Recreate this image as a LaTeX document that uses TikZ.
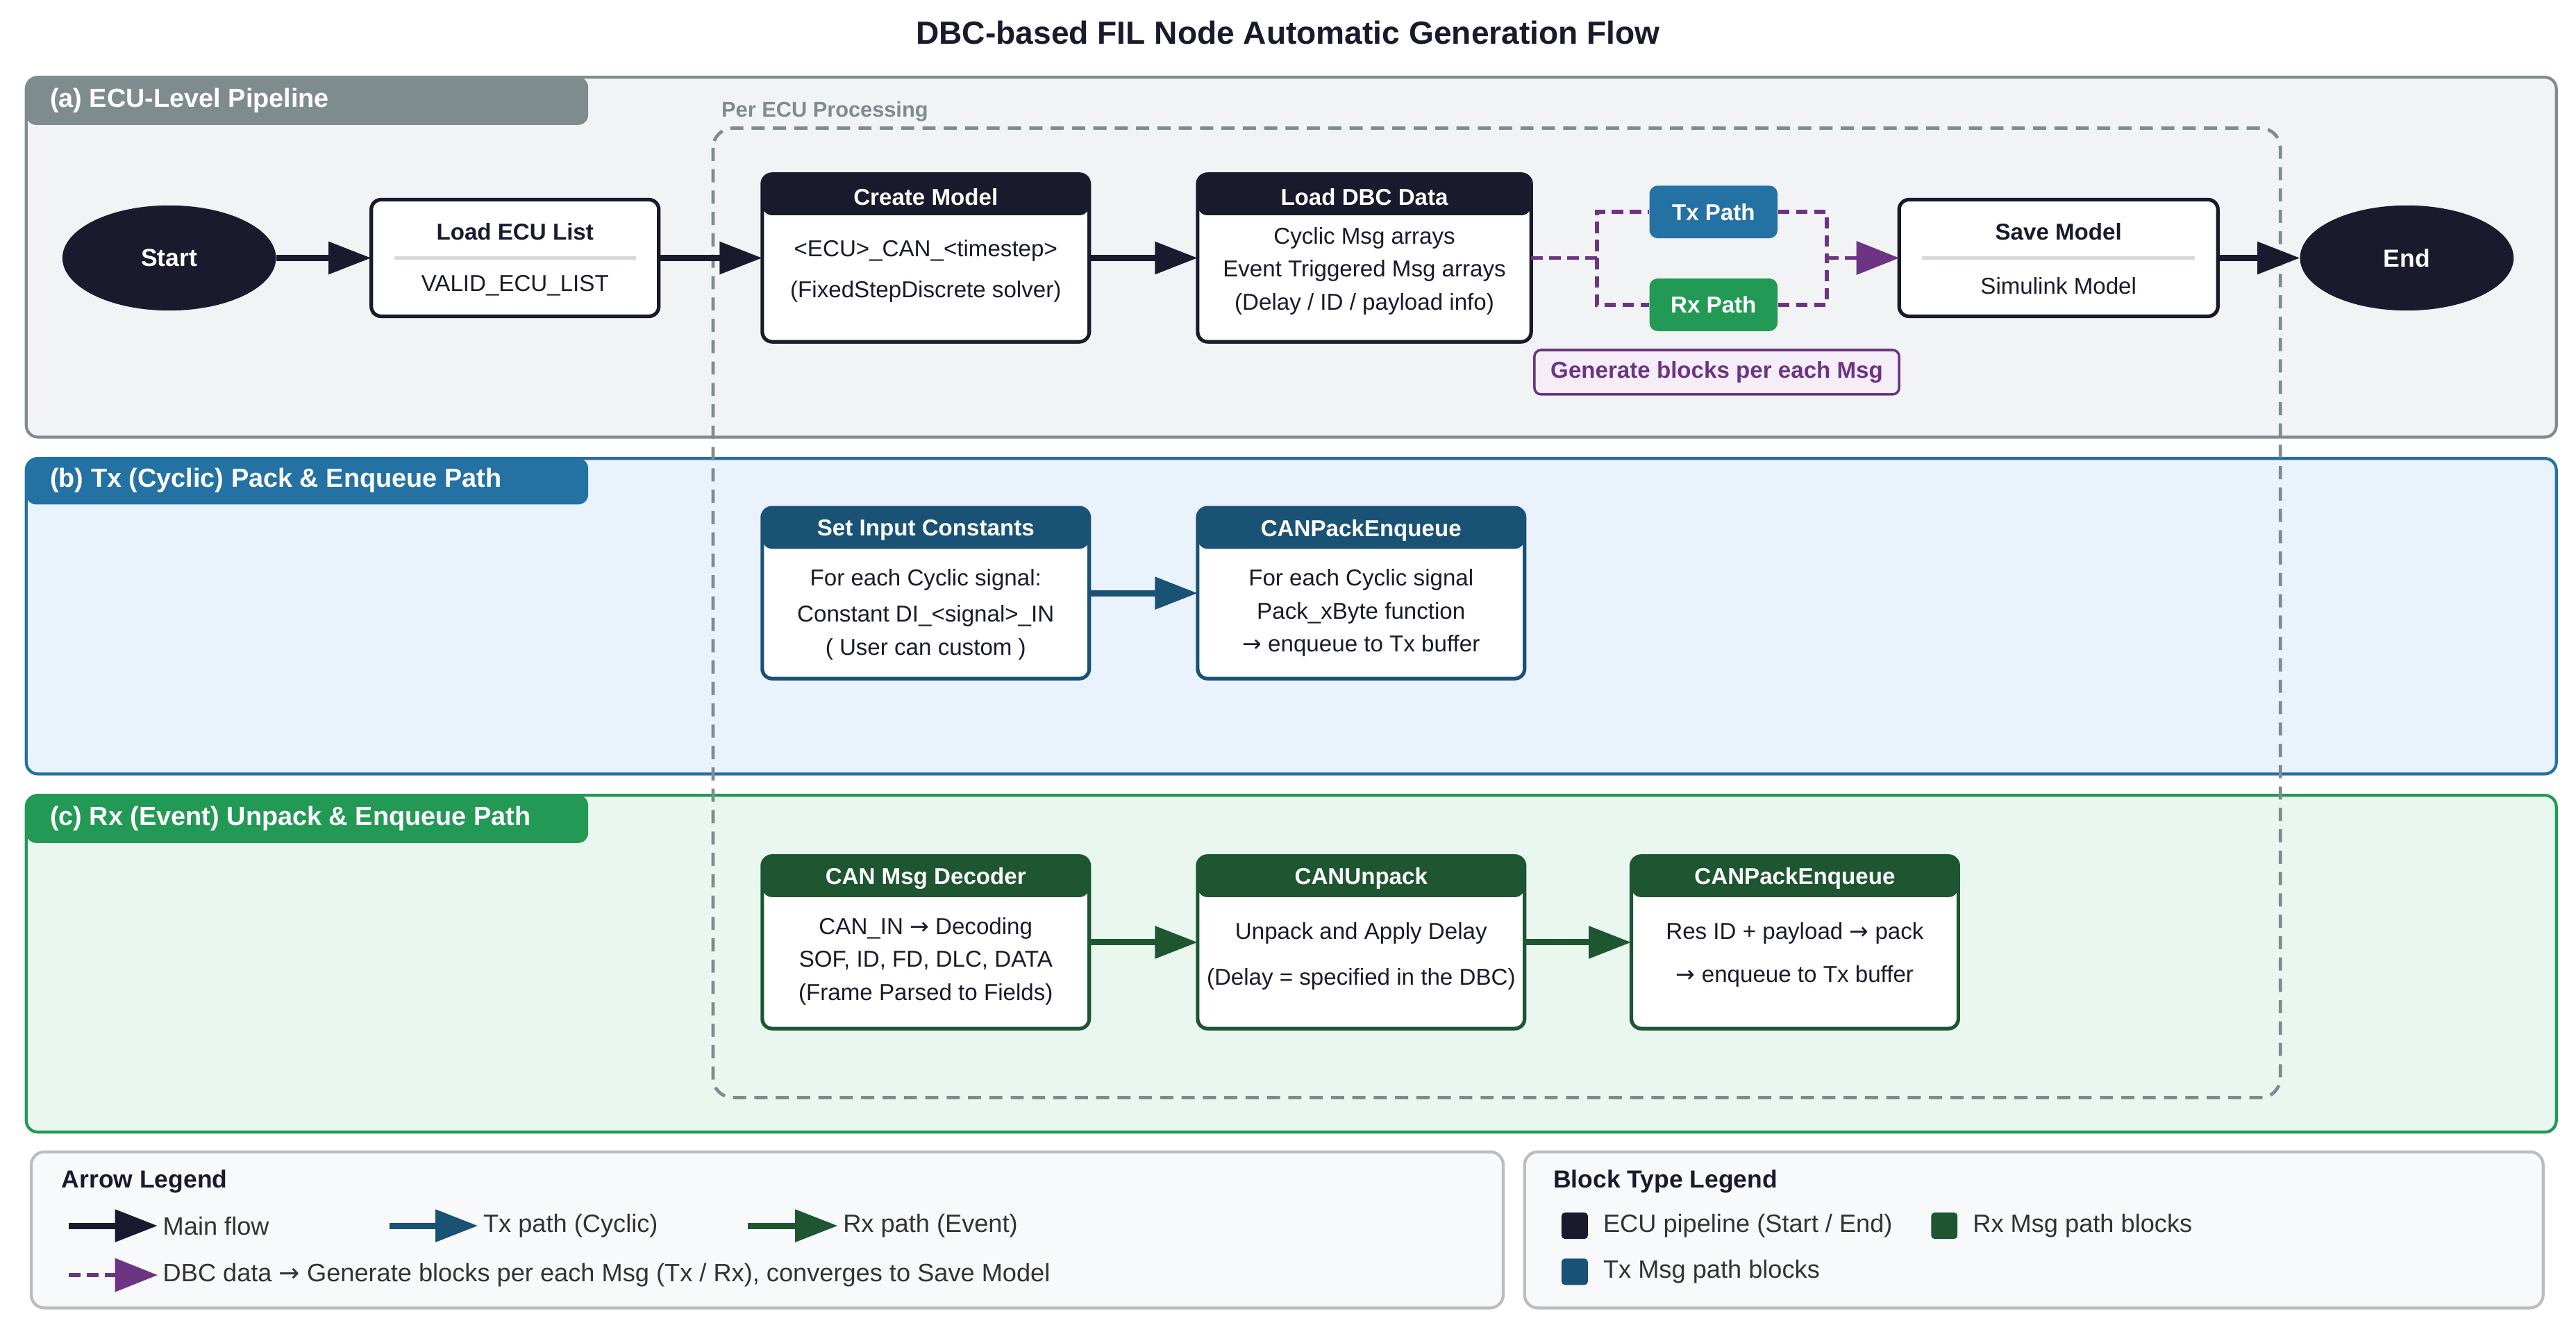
\documentclass[tikz,border=0pt]{standalone}
\usepackage{fontspec}
\setmainfont{Liberation Sans}
\newfontfamily\arrfont{DejaVu Sans}
\usepackage{tikz}
\usetikzlibrary{arrows.meta,calc,positioning,shapes.geometric}

\definecolor{navy}{HTML}{1A1A2E}
\definecolor{txdark}{HTML}{1A5276}
\definecolor{rxdark}{HTML}{1E5631}
\definecolor{txmid}{HTML}{2471A3}
\definecolor{rxmid}{HTML}{229954}
\definecolor{dbcpurple}{HTML}{6C3483}
\definecolor{slate}{HTML}{7F8C8D}
\definecolor{panelA}{HTML}{F2F3F5}
\definecolor{panelB}{HTML}{EAF2FB}
\definecolor{panelC}{HTML}{E9F7EF}
\definecolor{legfill}{HTML}{F8F9FA}
\definecolor{legline}{HTML}{BDBDBD}
\definecolor{genfill}{HTML}{F5EEF8}
\definecolor{divgray}{HTML}{D5D8DC}
\definecolor{legink}{HTML}{333333}
\newcommand{\fsz}[2]{\fontsize{#1}{#2}\selectfont}
\newcommand{\rarr}{{\arrfont →}}

\begin{document}
\begin{tikzpicture}[
    x=1pt, y=-1pt,
    font=\fsz{14}{20},
    panel/.style 2 args={fill=#1, draw=#2, line width=1.8pt, rounded corners=7pt},
    tabtext/.style={anchor=west, text=white, font=\bfseries\fsz{16}{19}},
    ecubox/.style={draw=slate, line width=2pt, dash pattern=on 8pt off 5pt, rounded corners=12pt},
    term/.style={ellipse, fill=navy, minimum width=130pt, minimum height=64pt,
                 outer sep=0pt, text=white, font=\bfseries\fsz{15}{18}},
    plainbox/.style={draw=navy, fill=white, line width=2.2pt, rounded corners=6pt,
                     outer sep=0pt, minimum width=175pt, minimum height=71pt},
    stage/.style={draw=#1, fill=white, line width=2.2pt, rounded corners=6pt,
                  outer sep=0pt, minimum width=199pt, minimum height=102pt,
                  path picture={\fill[#1] (path picture bounding box.north west)
                     rectangle ([yshift=-25pt]path picture bounding box.north east);}},
    hdr/.style={anchor=north, minimum height=27pt, inner sep=0pt, text=white,
                font=\bfseries\fsz{14}{17}},
    ttl/.style={text=navy, font=\bfseries\fsz{14}{17}},
    body/.style={align=center, text=navy, font=\fsz{14}{20}},
    divider/.style={divgray, line width=2pt},
    pathbox/.style={rounded corners=5pt, minimum width=78pt, minimum height=32pt,
                    text=white, font=\bfseries\fsz{14}{17}},
    genbox/.style={draw=dbcpurple, fill=genfill, line width=1.5pt, rounded corners=4pt,
                   minimum width=222pt, minimum height=27pt, text=dbcpurple,
                   font=\bfseries\fsz{14}{17}},
    flow/.style={draw=#1, line width=3.8pt, -{Triangle[length=26pt,width=19pt]}},
    flow/.default=navy,
    dbcline/.style={draw=dbcpurple, line width=2.5pt, dash pattern=on 7pt off 4pt},
    dbcarrow/.style={dbcline, -{Triangle[length=26pt,width=20pt]}},
    legbox/.style={fill=legfill, draw=legline, line width=1.8pt, rounded corners=8pt},
    legtitle/.style={anchor=west, text=navy, font=\bfseries\fsz{15}{18}},
    legtext/.style={anchor=west, inner sep=3pt, text=legink, font=\fsz{15.3}{18}},
    swatch/.style={rounded corners=2pt, minimum size=16pt, inner sep=0pt}
]
\useasboundingbox (0,0) rectangle (1568,806);

\node[font=\bfseries\fsz{19.5}{23}, text=navy] (title) at (784,20)
    {DBC-based FIL Node Automatic Generation Flow};

\filldraw[panel={panelA}{slate}] (16,47) rectangle (1556,266);
\fill[slate, rounded corners=6pt] (16,47) rectangle (358,76);
\node[tabtext] (pa) at (27,61) {(a) ECU-Level Pipeline};

\filldraw[panel={panelB}{txmid}] (16,279) rectangle (1556,471);
\fill[txmid, rounded corners=6pt] (16,279) rectangle (358,307);
\node[tabtext] (pb) at (27,292.5) {(b) Tx (Cyclic) Pack \& Enqueue Path};

\filldraw[panel={panelC}{rxmid}] (16,484) rectangle (1556,689);
\fill[rxmid, rounded corners=6pt] (16,484) rectangle (358,513);
\node[tabtext] (pc) at (27,498) {(c) Rx (Event) Unpack \& Enqueue Path};

\draw[ecubox] (434,78) rectangle (1388,668);
\node[anchor=west, inner sep=2pt, text=slate, font=\bfseries\fsz{13}{16}] (perecu)
    at (437,68) {Per ECU Processing};

\node[term] (start) at (103,157) {Start};
\node[plainbox, right=58pt of start] (ecu) {};
\node[ttl] (ecu-t) at ([yshift=16pt]ecu.center) {Load ECU List};
\draw[divider] ([xshift=14pt]ecu.west) -- ([xshift=-14pt]ecu.east);
\node[body] (ecu-b) at ([yshift=-17pt]ecu.center) {VALID\_ECU\_LIST};

\node[stage=navy, right=63pt of ecu] (cm) {};
\node[hdr] (cm-t) at (cm.north) {Create Model};
\node[body] (cm-b) at ([yshift=-8pt]cm.center)
    {<ECU>\_CAN\_<timestep>\\[5pt](FixedStepDiscrete solver)};

\node[stage=navy, minimum width=203pt, right=66pt of cm] (dbc) {};
\node[hdr] (dbc-t) at (dbc.north) {Load DBC Data};
\node[body] (dbc-b) at ([yshift=-8pt]dbc.center)
    {Cyclic Msg arrays\\Event Triggered Msg arrays\\(Delay / ID / payload info)};

\node[pathbox, fill=txmid] (tx) at (1043,129) {Tx Path};
\node[pathbox, fill=rxmid] (rx) at (1043,185.5) {Rx Path};
\node[genbox] (gen) at (1045,226.5) {Generate blocks per each Msg};

\node[plainbox, minimum width=194pt] (save) at (1253,157) {};
\node[ttl] (save-t) at ([yshift=16pt]save.center) {Save Model};
\draw[divider] ([xshift=14pt]save.west) -- ([xshift=-14pt]save.east);
\node[body] (save-b) at ([yshift=-17pt]save.center) {Simulink Model};

\node[term] (end) at (1465,157) {End};

\draw[flow] (start) -- (ecu);
\draw[flow] (ecu) -- (cm);
\draw[flow] (cm) -- (dbc);
\draw[flow] (save) -- (end);
\draw[dbcline] (dbc.east) -- ++(40,0) coordinate (split) |- (tx.west);
\draw[dbcline] (split) |- (rx.west);
\coordinate (merge) at (1112,157);
\draw[dbcline] (tx.east) -| (merge);
\draw[dbcline] (rx.east) -| (merge);
\draw[dbcarrow] (merge) -- (save);

\node[stage=txdark, minimum height=104pt] (sic) at (563.5,361) {};
\node[hdr] (sic-t) at (sic.north) {Set Input Constants};
\node[body] (sic-b) at ([yshift=-13pt]sic.center)
    {For each Cyclic signal:\\[2pt]Constant DI\_<signal>\_IN\\( User can custom )};
\node[stage=txdark, minimum height=104pt, right=66pt of sic] (cpe) {};
\node[hdr] (cpe-t) at (cpe.north) {CANPackEnqueue};
\node[body] (cpe-b) at ([yshift=-12pt]cpe.center)
    {For each Cyclic signal\\Pack\_xByte function\\\rarr{} enqueue to Tx buffer};
\draw[flow=txdark] (sic) -- (cpe);

\node[stage=rxdark, minimum height=105pt] (dec) at (563.5,573.5) {};
\node[hdr] (dec-t) at (dec.north) {CAN Msg Decoder};
\node[body] (dec-b) at ([yshift=-11.5pt]dec.center)
    {CAN\_IN \rarr{} Decoding\\SOF, ID, FD, DLC, DATA\\(Frame Parsed to Fields)};
\node[stage=rxdark, minimum height=105pt, right=66pt of dec] (unp) {};
\node[hdr] (unp-t) at (unp.north) {CANUnpack};
\node[body] (unp-b) at ([yshift=-8.5pt]unp.center)
    {Unpack and Apply Delay\\[8pt](Delay = specified in the DBC)};
\node[stage=rxdark, minimum height=105pt, right=65pt of unp] (enq) {};
\node[hdr] (enq-t) at (enq.north) {CANPackEnqueue};
\node[body] (enq-b) at ([yshift=-7.5pt]enq.center)
    {Res ID + payload \rarr{} pack\\[6pt]\rarr{} enqueue to Tx buffer};
\draw[flow=rxdark] (dec) -- (unp);
\draw[flow=rxdark] (unp) -- (enq);

\filldraw[legbox] (19,701) rectangle (915,796);
\node[legtitle] (al) at (34,719) {Arrow Legend};
\coordinate (a-main) at (42,746);
\node[legtext] (l-main) at (96,746) {Main flow};
\draw[flow] (a-main) -- (a-main -| l-main.west);
\coordinate (a-tx) at (237,746);
\node[legtext] (l-tx) at (291,746) {Tx path (Cyclic)};
\draw[flow=txdark] (a-tx) -- (a-tx -| l-tx.west);
\coordinate (a-rx) at (455,746);
\node[legtext] (l-rx) at (510,746) {Rx path (Event)};
\draw[flow=rxdark] (a-rx) -- (a-rx -| l-rx.west);
\coordinate (a-dbc) at (42,776);
\node[legtext] (l-dbc) at (96,776)
    {DBC data \rarr{} Generate blocks per each Msg (Tx / Rx), converges to Save Model};
\draw[dbcarrow] (a-dbc) -- (a-dbc -| l-dbc.west);

\filldraw[legbox] (928,701) rectangle (1548,796);
\node[legtitle] (bl) at (942,719) {Block Type Legend};
\node[swatch, fill=navy] (sw-ecu) at (958.5,746) {};
\node[legtext, right=6pt of sw-ecu] (t-ecu) {ECU pipeline (Start / End)};
\node[swatch, fill=rxdark] (sw-rx) at (1183.5,746) {};
\node[legtext, right=6pt of sw-rx] (t-rx) {Rx Msg path blocks};
\node[swatch, fill=txdark] (sw-tx) at (958.5,774) {};
\node[legtext, right=6pt of sw-tx] (t-tx) {Tx Msg path blocks};
\end{tikzpicture}
\end{document}
